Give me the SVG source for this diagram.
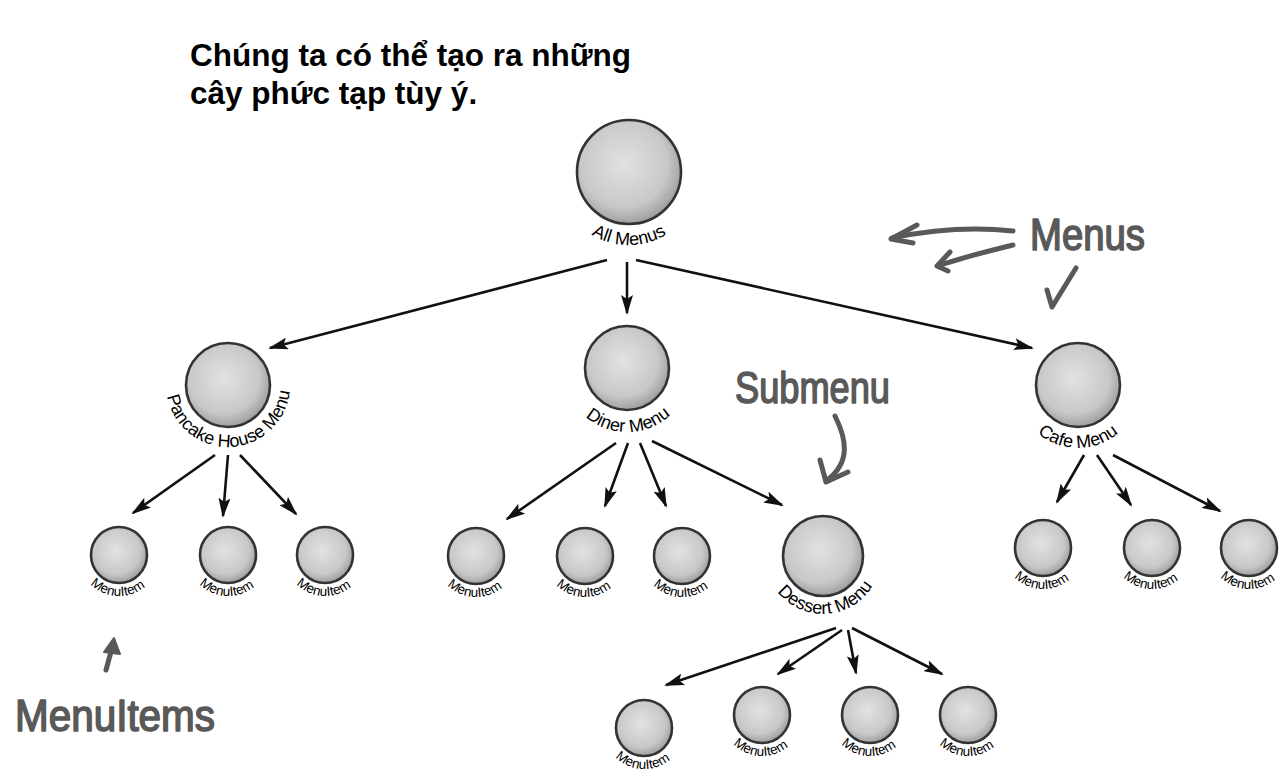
<svg xmlns="http://www.w3.org/2000/svg" width="1288" height="781" viewBox="0 0 1288 781">
<style>
.title{font-family:"Liberation Sans",Arial,sans-serif;font-weight:bold;font-size:31.5px;fill:#000}
.ball{fill:url(#g);stroke:#333;stroke-width:2.6}
.lbl{font-family:"Liberation Sans",Arial,sans-serif;font-size:18px;fill:#000}
.ilbl{font-family:"Liberation Sans",Arial,sans-serif;font-size:13.5px;fill:#000}
.edge{stroke:#111;stroke-width:2.6;fill:none;marker-end:url(#ah)}
.note{font-family:"Liberation Sans",Arial,sans-serif;font-size:44px;fill:#595959;stroke:#595959;stroke-width:1.6;stroke-linejoin:round}
.hand{stroke:#595959;stroke-width:5;fill:none;stroke-linecap:round;stroke-linejoin:round}
</style>
<defs>
<radialGradient id="g" cx="45%" cy="42%" r="60%">
<stop offset="0" stop-color="#e2e2e2"/>
<stop offset="0.7" stop-color="#c8c8c8"/>
<stop offset="1" stop-color="#9a9a9a"/>
</radialGradient>
<marker id="ah" viewBox="0 0 20 12" refX="18" refY="6" markerWidth="20" markerHeight="12" markerUnits="userSpaceOnUse" orient="auto">
<path d="M0,0 L20,6 L0,12 L4,6 Z" fill="#111"/>
</marker>
<path id="pRoot" d="M565.8,135.5 A73,73 0 1 0 692.2,135.5"/>
<path id="pPan" d="M174.3,354 A62,62 0 1 0 281.7,354"/>
<path id="pDin" d="M571.6,336 A64,64 0 1 0 682.4,336"/>
<path id="pCaf" d="M1023.4,353.5 A63,63 0 1 0 1132.6,353.5"/>
<path id="pDes" d="M772.7,527 A58,58 0 1 0 873.3,527"/>
<path id="pI1" d="M83.5,534.5 A41,41 0 1 0 154.5,534.5"/>
<path id="pI2" d="M192.5,534.5 A41,41 0 1 0 263.5,534.5"/>
<path id="pI3" d="M289.5,534.5 A41,41 0 1 0 360.5,534.5"/>
<path id="pI4" d="M440.5,535.5 A41,41 0 1 0 511.5,535.5"/>
<path id="pI5" d="M549.5,535.5 A41,41 0 1 0 620.5,535.5"/>
<path id="pI6" d="M646.5,535.5 A41,41 0 1 0 717.5,535.5"/>
<path id="pI7" d="M1007.5,527.5 A41,41 0 1 0 1078.5,527.5"/>
<path id="pI8" d="M1116.5,527.5 A41,41 0 1 0 1187.5,527.5"/>
<path id="pI9" d="M1213.5,527.5 A41,41 0 1 0 1284.5,527.5"/>
<path id="pI10" d="M608.5,707.5 A41,41 0 1 0 679.5,707.5"/>
<path id="pI11" d="M726.5,694.5 A41,41 0 1 0 797.5,694.5"/>
<path id="pI12" d="M834.5,694.5 A41,41 0 1 0 905.5,694.5"/>
<path id="pI13" d="M932.5,694.5 A41,41 0 1 0 1003.5,694.5"/>
</defs>
<rect width="1288" height="781" fill="#fff"/>

<g id="title">
<text class="title" x="190" y="66">Chúng ta có thể tạo ra những</text>
<text class="title" x="190" y="104">cây phức tạp tùy ý.</text>
</g>

<g id="connectors">
<line class="edge" x1="607" y1="260" x2="270" y2="348"/>
<line class="edge" x1="627" y1="262" x2="627" y2="313"/>
<line class="edge" x1="636" y1="260" x2="1032" y2="348"/>
<line class="edge" x1="215" y1="455" x2="133" y2="513"/>
<line class="edge" x1="228" y1="455" x2="223" y2="516"/>
<line class="edge" x1="240" y1="455" x2="296" y2="514"/>
<line class="edge" x1="616" y1="443" x2="507" y2="519"/>
<line class="edge" x1="628" y1="443" x2="605" y2="506"/>
<line class="edge" x1="640" y1="443" x2="666" y2="506"/>
<line class="edge" x1="652" y1="441" x2="782" y2="505"/>
<line class="edge" x1="1084" y1="455" x2="1057" y2="502"/>
<line class="edge" x1="1097" y1="455" x2="1131" y2="505"/>
<line class="edge" x1="1113" y1="455" x2="1220" y2="511"/>
<line class="edge" x1="836" y1="628" x2="666" y2="685"/>
<line class="edge" x1="842" y1="630" x2="778" y2="674"/>
<line class="edge" x1="848" y1="630" x2="856" y2="673"/>
<line class="edge" x1="852" y1="628" x2="942" y2="674"/>
</g>

<g id="node-all-menus">
<circle class="ball" cx="629" cy="172" r="52"/>
<text class="lbl"><textPath href="#pRoot" startOffset="50%" text-anchor="middle">All Menus</textPath></text>
</g>
<g id="node-pancake">
<circle class="ball" cx="228" cy="385" r="42"/>
<text class="lbl"><textPath href="#pPan" startOffset="51%" text-anchor="middle">Pancake House Menu</textPath></text>
</g>
<g id="node-diner">
<circle class="ball" cx="627" cy="368" r="42"/>
<text class="lbl"><textPath href="#pDin" startOffset="50.5%" text-anchor="middle">Diner Menu</textPath></text>
</g>
<g id="node-cafe">
<circle class="ball" cx="1078" cy="385" r="42"/>
<text class="lbl"><textPath href="#pCaf" startOffset="50%" text-anchor="middle">Cafe Menu</textPath></text>
</g>
<g id="node-dessert">
<circle class="ball" cx="823" cy="556" r="40"/>
<text class="lbl"><textPath href="#pDes" startOffset="51.5%" text-anchor="middle">Dessert Menu</textPath></text>
</g>

<g id="item-p1"><circle class="ball" cx="119" cy="555" r="28"/><text class="ilbl"><textPath href="#pI1" startOffset="49%" text-anchor="middle">MenuItem</textPath></text></g>
<g id="item-p2"><circle class="ball" cx="228" cy="555" r="28"/><text class="ilbl"><textPath href="#pI2" startOffset="49%" text-anchor="middle">MenuItem</textPath></text></g>
<g id="item-p3"><circle class="ball" cx="325" cy="555" r="28"/><text class="ilbl"><textPath href="#pI3" startOffset="49%" text-anchor="middle">MenuItem</textPath></text></g>
<g id="item-d1"><circle class="ball" cx="476" cy="556" r="28"/><text class="ilbl"><textPath href="#pI4" startOffset="49%" text-anchor="middle">MenuItem</textPath></text></g>
<g id="item-d2"><circle class="ball" cx="585" cy="556" r="28"/><text class="ilbl"><textPath href="#pI5" startOffset="49%" text-anchor="middle">MenuItem</textPath></text></g>
<g id="item-d3"><circle class="ball" cx="682" cy="556" r="28"/><text class="ilbl"><textPath href="#pI6" startOffset="49%" text-anchor="middle">MenuItem</textPath></text></g>
<g id="item-c1"><circle class="ball" cx="1043" cy="548" r="28"/><text class="ilbl"><textPath href="#pI7" startOffset="49%" text-anchor="middle">MenuItem</textPath></text></g>
<g id="item-c2"><circle class="ball" cx="1152" cy="548" r="28"/><text class="ilbl"><textPath href="#pI8" startOffset="49%" text-anchor="middle">MenuItem</textPath></text></g>
<g id="item-c3"><circle class="ball" cx="1249" cy="548" r="28"/><text class="ilbl"><textPath href="#pI9" startOffset="49%" text-anchor="middle">MenuItem</textPath></text></g>
<g id="item-s1"><circle class="ball" cx="644" cy="728" r="28"/><text class="ilbl"><textPath href="#pI10" startOffset="49%" text-anchor="middle">MenuItem</textPath></text></g>
<g id="item-s2"><circle class="ball" cx="762" cy="715" r="28"/><text class="ilbl"><textPath href="#pI11" startOffset="49%" text-anchor="middle">MenuItem</textPath></text></g>
<g id="item-s3"><circle class="ball" cx="870" cy="715" r="28"/><text class="ilbl"><textPath href="#pI12" startOffset="49%" text-anchor="middle">MenuItem</textPath></text></g>
<g id="item-s4"><circle class="ball" cx="968" cy="715" r="28"/><text class="ilbl"><textPath href="#pI13" startOffset="49%" text-anchor="middle">MenuItem</textPath></text></g>

<g id="annotation-menus">
<text class="note" x="1030" y="250" textLength="115" lengthAdjust="spacingAndGlyphs">Menus</text>
<path class="hand" d="M1013,231 C975,227 935,229 892,238"/>
<path class="hand" d="M917,225 L891,239 L913,243"/>
<path class="hand" d="M1013,245 C985,252 960,258 938,266"/>
<path class="hand" d="M950,252 L937,266 L948,271"/>
<path class="hand" d="M1076,268 L1052,307 L1047,290"/>
</g>
<g id="annotation-submenu">
<text class="note" x="735" y="403" textLength="155" lengthAdjust="spacingAndGlyphs">Submenu</text>
<path class="hand" d="M835,416 C846,438 852,462 826,481"/>
<path class="hand" d="M820,460 L826,482 L848,472"/>
</g>
<g id="annotation-menuitems">
<text class="note" x="15" y="731" textLength="200" lengthAdjust="spacingAndGlyphs">MenuItems</text>
<path class="hand" d="M106,670 L112,648"/>
<path d="M104,652 L114,638 L120,654 Z" fill="#595959" stroke="#595959" stroke-width="2" stroke-linejoin="round"/>
</g>
</svg>
